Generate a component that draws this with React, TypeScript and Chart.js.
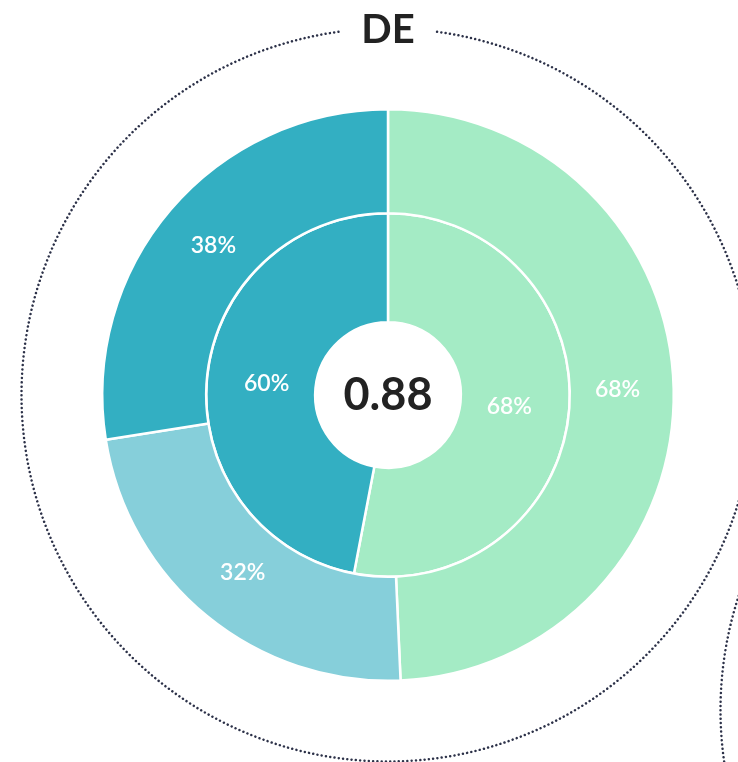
import React, { useEffect, useRef } from "react";
import { Chart, registerables } from "chart.js";
Chart.register(...registerables);

const TITLE = "DE";
const CENTER_VALUE = "0.88";
const CATEGORIES = ["A", "B", "C"];
const OUTER_VALUES = [49.3, 23.2, 27.5];
const OUTER_LABELS = ["68%", "32%", "38%"];
const INNER_VALUES = [53, 47];
const INNER_LABELS = ["68%", "60%"];

const GREEN = "#a4ebc5";
const LIGHT = "#86cfda";
const TEAL = "#33afc2";
const DOT = "#2c3148";
const FONT = "Lato, 'Open Sans', sans-serif";
const LABEL_RADIUS_FACTOR = [0.46, 0.45];

function dottedCircle(ctx: CanvasRenderingContext2D, cx: number, cy: number, r: number) {
  ctx.save();
  ctx.beginPath();
  ctx.arc(cx, cy, r, 0, Math.PI * 2);
  ctx.strokeStyle = DOT;
  ctx.lineWidth = 2.5;
  ctx.lineCap = "round";
  ctx.setLineDash([0.01, 4.3]);
  ctx.stroke();
  ctx.restore();
}

const decorPlugin = {
  id: "decor",
  beforeDraw(chart: any) {
    const ctx = chart.ctx as CanvasRenderingContext2D;
    const meta = chart.getDatasetMeta(0);
    const arc = meta.data[0];
    const cx = arc.x, cy = arc.y;
    dottedCircle(ctx, cx, cy, 366.5);
    dottedCircle(ctx, cx + 699, cy + 315, 366.5);
    ctx.save();
    ctx.fillStyle = "#ffffff";
    ctx.fillRect(cx - 47, 10, 94, 40);
    ctx.fillStyle = "#222222";
    ctx.font = `bold 40px ${FONT}`;
    ctx.textAlign = "center";
    ctx.textBaseline = "alphabetic";
    ctx.fillText(TITLE, cx, 43);
    ctx.restore();
  },
  afterDatasetsDraw(chart: any) {
    const ctx = chart.ctx as CanvasRenderingContext2D;
    const sets = [OUTER_LABELS, INNER_LABELS];
    ctx.save();
    ctx.fillStyle = "#ffffff";
    ctx.font = `600 23px ${FONT}`;
    ctx.textAlign = "center";
    ctx.textBaseline = "middle";
    sets.forEach((labels, di) => {
      const meta = chart.getDatasetMeta(di);
      meta.data.forEach((a: any, i: number) => {
        const p = a.getProps(["x", "y", "startAngle", "endAngle", "innerRadius", "outerRadius"], true);
        const mid = (p.startAngle + p.endAngle) / 2;
        const r = p.innerRadius + (p.outerRadius - p.innerRadius) * LABEL_RADIUS_FACTOR[di];
        ctx.fillText(labels[i], p.x + Math.cos(mid) * r, p.y + Math.sin(mid) * r);
      });
    });
    const arc = chart.getDatasetMeta(0).data[0];
    ctx.fillStyle = "#222222";
    ctx.font = `bold 45px ${FONT}`;
    ctx.textBaseline = "alphabetic";
    ctx.fillText(CENTER_VALUE, arc.x, arc.y + 15);
    ctx.restore();
  },
};

export default function App() {
  const ref = useRef<HTMLCanvasElement>(null);
  useEffect(() => {
    if (!ref.current) return;
    const chart = new Chart(ref.current, {
      type: "doughnut",
      data: {
        labels: CATEGORIES,
        datasets: [
          {
            data: OUTER_VALUES,
            backgroundColor: [GREEN, LIGHT, TEAL],
            borderColor: "#ffffff",
            borderWidth: 2.5,
            hoverOffset: 0,
            weight: 104,
          },
          {
            data: INNER_VALUES,
            backgroundColor: [GREEN, TEAL],
            borderColor: "#ffffff",
            borderWidth: 2.5,
            hoverOffset: 0,
            weight: 109,
          },
        ],
      },
      options: {
        responsive: false,
        animation: false,
        devicePixelRatio: 1,
        cutout: "25.5%",
        layout: { padding: { left: 101, right: 63, top: 108, bottom: 80 } },
        plugins: { legend: { display: false }, tooltip: { enabled: false } },
        events: [],
      },
      plugins: [decorPlugin],
    } as any);
    return () => chart.destroy();
  }, []);
  return (
    <div style={{ position: "fixed", left: 0, top: 0, width: 738, height: 762, background: "#fff" }}>
      <canvas ref={ref} width={738} height={762} />
    </div>
  );
}
